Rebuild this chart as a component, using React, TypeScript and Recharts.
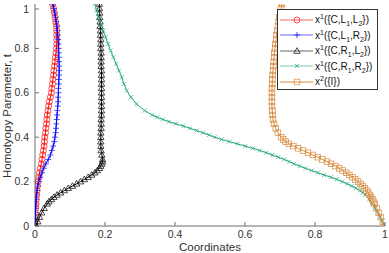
import { ScatterChart, Scatter, XAxis, YAxis } from "recharts";

const xTicks = [0, 0.2, 0.4, 0.6, 0.8, 1];
const tTicks = [0, 0.1, 0.2, 0.3, 0.4, 0.5, 0.6, 0.7, 0.8, 0.9, 1];

// shared homotopy parameter grid for the two x1 curves starting at the origin
const tGrid = [
  0, 0.02, 0.04, 0.06, 0.08, 0.1, 0.12, 0.14, 0.16, 0.18,
  0.2, 0.22, 0.24, 0.26, 0.28, 0.3, 0.32, 0.34, 0.36, 0.38,
  0.4, 0.42, 0.44, 0.46, 0.48, 0.5, 0.52, 0.54, 0.56, 0.58,
  0.6, 0.62, 0.64, 0.66, 0.68, 0.7, 0.72, 0.74, 0.76, 0.78,
  0.8, 0.82, 0.84, 0.86, 0.88, 0.9, 0.92, 0.94, 0.96, 0.98,
  1,
];

const redX = [
  0.0, 0.0, 0.001, 0.001, 0.002, 0.003, 0.004, 0.005, 0.006, 0.007,
  0.009, 0.011, 0.013, 0.015, 0.018, 0.02, 0.022, 0.024, 0.026, 0.027,
  0.028, 0.03, 0.031, 0.033, 0.034, 0.035, 0.037, 0.039, 0.041, 0.044,
  0.047, 0.048, 0.05, 0.051, 0.053, 0.054, 0.056, 0.057, 0.058, 0.06,
  0.061, 0.062, 0.062, 0.062, 0.062, 0.061, 0.059, 0.057, 0.055, 0.053,
  0.05,
];

const blueX = [
  0.0, 0.0, 0.001, 0.001, 0.002, 0.002, 0.003, 0.004, 0.006, 0.008,
  0.011, 0.015, 0.02, 0.025, 0.031, 0.038, 0.044, 0.048, 0.052, 0.055,
  0.057, 0.059, 0.06, 0.061, 0.062, 0.063, 0.064, 0.065, 0.066, 0.066,
  0.067, 0.067, 0.068, 0.068, 0.069, 0.069, 0.069, 0.069, 0.068, 0.068,
  0.067, 0.067, 0.066, 0.065, 0.064, 0.063, 0.061, 0.059, 0.057, 0.054,
  0.051,
];

const blackT = [
  0, 0.02, 0.04, 0.06, 0.08, 0.1, 0.11, 0.12, 0.13, 0.14,
  0.15, 0.16, 0.17, 0.18, 0.19, 0.2, 0.21, 0.22, 0.23, 0.24,
  0.25, 0.26, 0.27, 0.28, 0.29, 0.3, 0.32, 0.34, 0.36, 0.38,
  0.4, 0.42, 0.44, 0.46, 0.48, 0.5, 0.52, 0.54, 0.56, 0.58,
  0.6, 0.62, 0.64, 0.66, 0.68, 0.7, 0.72, 0.74, 0.76, 0.78,
  0.8, 0.82, 0.84, 0.86, 0.88, 0.9, 0.92, 0.94, 0.96, 0.98,
  1,
];
const blackX = [
  0.004, 0.008, 0.013, 0.019, 0.026, 0.035, 0.04, 0.047, 0.054, 0.063,
  0.073, 0.084, 0.095, 0.107, 0.119, 0.13, 0.141, 0.152, 0.162, 0.171,
  0.178, 0.184, 0.188, 0.191, 0.193, 0.193, 0.191, 0.189, 0.188, 0.188,
  0.188, 0.188, 0.189, 0.189, 0.189, 0.19, 0.19, 0.19, 0.19, 0.19,
  0.19, 0.19, 0.19, 0.19, 0.19, 0.19, 0.189, 0.189, 0.189, 0.189,
  0.188, 0.188, 0.188, 0.187, 0.187, 0.186, 0.186, 0.185, 0.185, 0.184,
  0.184,
];

const greenT = [
  1, 0.97, 0.94, 0.91, 0.88, 0.85, 0.82, 0.79, 0.76, 0.73,
  0.7, 0.67, 0.64, 0.61, 0.58, 0.55, 0.52, 0.5, 0.49, 0.48,
  0.47, 0.46, 0.45, 0.44, 0.43, 0.42, 0.41, 0.4, 0.39, 0.38,
  0.37, 0.36, 0.35, 0.34, 0.33, 0.32, 0.31, 0.3, 0.29, 0.28,
  0.27, 0.26, 0.25, 0.24, 0.23, 0.22, 0.21, 0.2, 0.19, 0.18,
  0.17, 0.16, 0.15, 0.14, 0.12, 0.1, 0.08, 0.06, 0.04, 0.02,
  0,
];
const greenX = [
  0.171, 0.176, 0.182, 0.188, 0.195, 0.202, 0.209, 0.216, 0.224, 0.232,
  0.24, 0.248, 0.254, 0.262, 0.274, 0.29, 0.313, 0.335, 0.349, 0.365,
  0.383, 0.403, 0.424, 0.443, 0.462, 0.48, 0.497, 0.513, 0.533, 0.555,
  0.578, 0.6, 0.622, 0.642, 0.661, 0.678, 0.695, 0.712, 0.726, 0.74,
  0.756, 0.772, 0.79, 0.808, 0.826, 0.845, 0.862, 0.878, 0.892, 0.905,
  0.917, 0.928, 0.936, 0.943, 0.955, 0.964, 0.971, 0.979, 0.986, 0.992,
  1.0,
];

const orangeT = [
  1, 0.98, 0.96, 0.94, 0.92, 0.9, 0.88, 0.86, 0.84, 0.82,
  0.8, 0.78, 0.76, 0.74, 0.72, 0.7, 0.68, 0.66, 0.64, 0.62,
  0.6, 0.58, 0.56, 0.54, 0.52, 0.5, 0.48, 0.46, 0.44, 0.42,
  0.4, 0.39, 0.38, 0.37, 0.36, 0.35, 0.34, 0.33, 0.32, 0.31,
  0.3, 0.29, 0.28, 0.27, 0.26, 0.25, 0.24, 0.23, 0.22, 0.21,
  0.2, 0.19, 0.18, 0.17, 0.16, 0.15, 0.14, 0.13, 0.12, 0.11,
  0.1, 0.08, 0.06, 0.04, 0.02, 0,
];
const orangeX = [
  0.706, 0.703, 0.701, 0.698, 0.696, 0.694, 0.692, 0.69, 0.689, 0.687,
  0.686, 0.684, 0.683, 0.682, 0.681, 0.68, 0.679, 0.678, 0.678, 0.677,
  0.677, 0.677, 0.677, 0.677, 0.678, 0.679, 0.68, 0.683, 0.688, 0.694,
  0.703, 0.709, 0.716, 0.725, 0.738, 0.752, 0.766, 0.78, 0.794, 0.808,
  0.821, 0.834, 0.846, 0.858, 0.869, 0.879, 0.889, 0.898, 0.907, 0.915,
  0.923, 0.93, 0.936, 0.942, 0.947, 0.952, 0.956, 0.96, 0.964, 0.967,
  0.97, 0.976, 0.982, 0.988, 0.994, 1.0,
];

const toPoints = (ts: number[], xs: number[]) => ts.map((t, i) => ({ x: xs[i], t }));

const RED = "#ff0000";
const BLUE = "#0000ff";
const BLACK = "#000000";
const GREEN = "#21a87a";
const ORANGE = "#d9873a";
const AXIS = "#6e6e6e";
const FONT = "'Liberation Sans', Arial, Helvetica, sans-serif";

const CircleMark = ({ cx, cy }: any) => (
  <circle cx={cx} cy={cy} r={3} fill="none" stroke={RED} strokeWidth={0.7} />
);
const PlusMark = ({ cx, cy }: any) => (
  <path d={`M${cx - 3},${cy}H${cx + 3}M${cx},${cy - 3}V${cy + 3}`} stroke={BLUE} strokeWidth={0.7} fill="none" />
);
const TriMark = ({ cx, cy }: any) => (
  <path d={`M${cx},${cy - 3.3}L${cx + 3.2},${cy + 2.3}L${cx - 3.2},${cy + 2.3}Z`} stroke={BLACK} strokeWidth={0.7} fill="none" />
);
const XMark = ({ cx, cy }: any) => (
  <path d={`M${cx - 2},${cy - 2}L${cx + 2},${cy + 2}M${cx - 2},${cy + 2}L${cx + 2},${cy - 2}`} stroke={GREEN} strokeWidth={0.7} fill="none" />
);
const SquareMark = ({ cx, cy }: any) => (
  <rect x={cx - 2.8} y={cy - 2.8} width={5.6} height={5.6} stroke={ORANGE} strokeWidth={0.7} fill="none" />
);

const fmt = (v: number) => String(v);

const BottomTick = ({ x, y, payload }: any) => (
  <g>
    <line x1={x} y1={y} x2={x} y2={y - 4} stroke={AXIS} />
    <text x={x} y={y + 12} textAnchor="middle" fontSize={10.5} fill="#333" fontFamily={FONT}>
      {fmt(payload.value)}
    </text>
  </g>
);
const LeftTick = ({ x, y, payload }: any) => (
  <g>
    <line x1={x} y1={y} x2={x + 4} y2={y} stroke={AXIS} />
    <text x={x - 6} y={y + 3.6} textAnchor="end" fontSize={10.5} fill="#333" fontFamily={FONT}>
      {fmt(payload.value)}
    </text>
  </g>
);
const TopTick = ({ x, y }: any) => <line x1={x} y1={y} x2={x} y2={y + 4} stroke={AXIS} />;
const RightTick = ({ x, y }: any) => <line x1={x} y1={y} x2={x - 4} y2={y} stroke={AXIS} />;

const legendItems = [
  { mark: CircleMark, color: RED, sub: ["L", "L"], idx: ["1", "2"], sup: "1", name: "C" },
  { mark: PlusMark, color: BLUE, sub: ["L", "R"], idx: ["1", "2"], sup: "1", name: "C" },
  { mark: TriMark, color: BLACK, sub: ["R", "L"], idx: ["1", "2"], sup: "1", name: "C" },
  { mark: XMark, color: GREEN, sub: ["R", "R"], idx: ["1", "2"], sup: "1", name: "C" },
];

const small = { fontSize: 7, lineHeight: 0 } as const;

function LegendBox() {
  return (
    <div
      style={{
        position: "absolute",
        left: 277,
        top: 9,
        width: 101,
        height: 81,
        background: "#fff",
        border: "1px solid #333",
        fontFamily: FONT,
        fontSize: 10,
        color: "#111",
        boxSizing: "border-box",
        paddingTop: 2,
      }}
    >
      {legendItems.map((it, i) => {
        const M = it.mark;
        return (
          <div key={i} style={{ display: "flex", alignItems: "center", height: 15.5 }}>
            <svg width={37} height={12} style={{ flex: "none" }}>
              <line x1={2} y1={6} x2={35} y2={6} stroke={it.color} strokeWidth={1} opacity={0.6} />
              <M cx={19} cy={6} />
            </svg>
            <span style={{ whiteSpace: "nowrap" }}>
              x<sup style={small}>{it.sup}</sup>({"{"}
              {it.name},{it.sub[0]}
              <sub style={small}>{it.idx[0]}</sub>,{it.sub[1]}
              <sub style={small}>{it.idx[1]}</sub>
              {"})"}
            </span>
          </div>
        );
      })}
      <div style={{ display: "flex", alignItems: "center", height: 15.5 }}>
        <svg width={37} height={12} style={{ flex: "none" }}>
          <line x1={2} y1={6} x2={35} y2={6} stroke={ORANGE} strokeWidth={1} />
          <SquareMark cx={19} cy={6} />
        </svg>
        <span style={{ whiteSpace: "nowrap" }}>
          x<sup style={small}>2</sup>({"{I}"})
        </span>
      </div>
    </div>
  );
}

export default function App() {
  const series = [
    { key: "red", data: toPoints(tGrid, redX), color: RED, shape: CircleMark },
    { key: "blue", data: toPoints(tGrid, blueX), color: BLUE, shape: PlusMark },
    { key: "black", data: toPoints(blackT, blackX), color: BLACK, shape: TriMark },
    { key: "green", data: toPoints(greenT, greenX), color: GREEN, shape: XMark },
    { key: "orange", data: toPoints(orangeT, orangeX), color: ORANGE, shape: SquareMark },
  ];

  return (
    <div style={{ position: "absolute", left: 0, top: 0, width: 389, height: 253, background: "#fff" }}>
      <ScatterChart width={389} height={253} margin={{ top: 4, right: 4, bottom: 0, left: 0 }}>
        <XAxis
          xAxisId={0}
          type="number"
          dataKey="x"
          domain={[0, 1]}
          ticks={xTicks}
          height={27}
          tickSize={0}
          tickMargin={0}
          stroke={AXIS}
          tick={<BottomTick />}
          allowDataOverflow
        />
        <XAxis
          xAxisId="top"
          orientation="top"
          type="number"
          dataKey="x"
          domain={[0, 1]}
          ticks={xTicks}
          height={0}
          tickSize={0}
          tickMargin={0}
          stroke={AXIS}
          tick={<TopTick />}
        />
        <YAxis
          yAxisId={0}
          type="number"
          dataKey="t"
          domain={[0, 1]}
          ticks={tTicks}
          width={35}
          tickSize={0}
          tickMargin={0}
          stroke={AXIS}
          tick={<LeftTick />}
          allowDataOverflow
        />
        <YAxis
          yAxisId="right"
          orientation="right"
          type="number"
          dataKey="t"
          domain={[0, 1]}
          ticks={tTicks}
          width={0}
          tickSize={0}
          tickMargin={0}
          stroke={AXIS}
          tick={<RightTick />}
        />
        {series.map((s) => (
          <Scatter
            key={s.key}
            data={s.data}
            xAxisId={0}
            yAxisId={0}
            line={{ stroke: s.color, strokeWidth: 1 }}
            lineType="joint"
            shape={s.shape}
            isAnimationActive={false}
          />
        ))}
      </ScatterChart>
      <svg width={389} height={253} style={{ position: "absolute", left: 0, top: 0, pointerEvents: "none" }}>
        <text x={210} y={251} textAnchor="middle" fontSize={11.5} fill="#333" fontFamily={FONT}>
          Coordinates
        </text>
        <text
          x={11}
          y={116}
          textAnchor="middle"
          fontSize={11.5}
          fill="#333"
          fontFamily={FONT}
          transform="rotate(-90 11 116)"
        >
          Homotyopy Parameter, t
        </text>
      </svg>
      <LegendBox />
    </div>
  );
}
